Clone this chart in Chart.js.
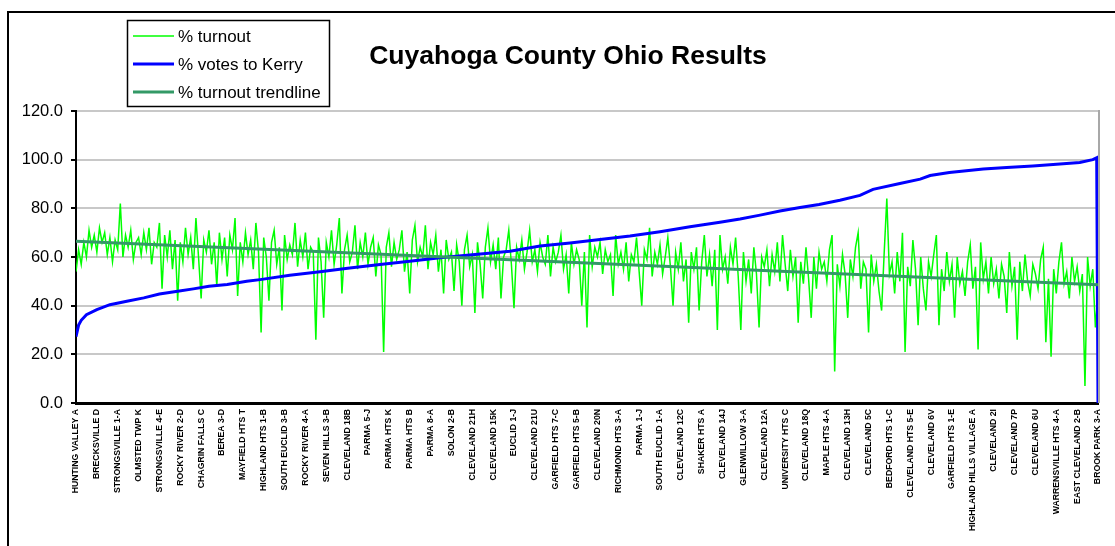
<!DOCTYPE html>
<html>
<head>
<meta charset="utf-8">
<title>Cuyahoga County Ohio Results</title>
<script src="https://cdn.jsdelivr.net/npm/chart.js@4.4.1/dist/chart.umd.min.js"></script>
<style>
  html, body { margin: 0; padding: 0; background: #fff; overflow: hidden; }
  #frame { position: absolute; left: 7px; top: 11px; width: 1200px; height: 600px; border: 2px solid #000; box-sizing: border-box; }
  #wrap { position: absolute; left: 0; top: 0; width: 1115px; height: 546px; }
</style>
</head>
<body>
<div id="frame"></div>
<div id="wrap"><canvas id="resultsChart"></canvas></div>
<script>
const TITLE = 'Cuyahoga County Ohio Results';

// one labelled precinct every LABEL_EVERY positions on the x axis
const LABEL_EVERY = 8;
const precinctLabels = [
  'HUNTING VALLEY A', 'BRECKSVILLE D', 'STRONGSVILLE 1-A', 'OLMSTED TWP K', 'STRONGSVILLE 4-E',
  'ROCKY RIVER 2-D', 'CHAGRIN FALLS C', 'BEREA 3-D', 'MAYFIELD HTS T', 'HIGHLAND HTS 1-B',
  'SOUTH EUCLID 3-B', 'ROCKY RIVER 4-A', 'SEVEN HILLS 3-B', 'CLEVELAND 18B', 'PARMA 5-J',
  'PARMA HTS K', 'PARMA HTS B', 'PARMA 8-A', 'SOLON 2-B', 'CLEVELAND 21H',
  'CLEVELAND 15K', 'EUCLID 1-J', 'CLEVELAND 21U', 'GARFIELD HTS 7-C', 'GARFIELD HTS 5-B',
  'CLEVELAND 20N', 'RICHMOND HTS 3-A', 'PARMA 1-J', 'SOUTH EUCLID 1-A', 'CLEVELAND 12C',
  'SHAKER HTS A', 'CLEVELAND 14J', 'GLENWILLOW 3-A', 'CLEVELAND 12A', 'UNIVERSITY HTS C',
  'CLEVELAND 18Q', 'MAPLE HTS 4-A', 'CLEVELAND 13H', 'CLEVELAND 5C', 'BEDFORD HTS 1-C',
  'CLEVELAND HTS 5-E', 'CLEVELAND 6V', 'GARFIELD HTS 1-E', 'HIGHLAND HILLS VILLAGE A', 'CLEVELAND 2I',
  'CLEVELAND 7P', 'CLEVELAND 6U', 'WARRENSVILLE HTS 4-A', 'EAST CLEVELAND 2-B', 'BROOK PARK 3-A'
];

// % turnout, one value per position (8 per labelled interval)
const turnout = [
  54, 63, 57, 66, 60, 71, 64, 69,
  62, 72, 66, 70, 61, 68, 58, 67,
  63, 82, 60, 69, 64, 71, 59, 66,
  68, 61, 70, 63, 72, 57, 66, 64,
  74, 47, 69, 60, 71, 55, 67, 42,
  66, 58, 72, 61, 68, 55, 76, 60,
  43, 67, 62, 71, 57, 66, 48, 70,
  59, 68, 52, 69, 63, 76, 44, 66,
  58, 70, 61, 67, 55, 74, 62, 29,
  68, 60, 42, 66, 71, 57, 64, 38,
  69, 59, 65, 61, 74, 56, 67, 60,
  70, 55, 64, 62, 26, 68, 58, 35,
  66, 60, 71, 57, 65, 76, 45, 63,
  69, 58, 62, 73, 55, 66, 60, 70,
  57, 64, 68, 52, 65, 61, 21, 64,
  70, 56, 66, 59, 63, 71, 54, 62,
  45, 67, 73, 58, 64, 60, 73, 55,
  66, 61, 69, 54, 63, 45, 67, 59,
  62, 46, 65, 58, 40, 63, 69, 56,
  61, 37, 66, 57, 43, 64, 72, 58,
  65, 55, 68, 43, 60, 63, 71, 57,
  39, 64, 59, 67, 55, 62, 71, 58,
  63, 54, 66, 60, 57, 69, 52, 64,
  58, 62, 69, 55, 61, 45, 66, 57,
  63, 59, 40, 62, 31, 69, 56, 64,
  60, 66, 53, 63, 58, 61, 44, 69,
  57, 62, 55, 66, 50, 61, 58, 68,
  54, 40, 63, 59, 72, 52, 62, 57,
  65, 53, 60, 68, 56, 40, 62, 55,
  66, 50, 59, 33, 62, 55, 64, 38,
  58, 69, 52, 61, 48, 63, 30, 69,
  55, 60, 49, 64, 57, 68, 52, 30,
  62, 50, 59, 45, 64, 53, 31, 60,
  56, 63, 48, 61, 54, 66, 50, 69,
  57, 46, 63, 52, 60, 33, 58, 49,
  64, 51, 35, 60, 47, 62, 55, 58,
  50, 63, 69, 13, 57, 48, 61, 53,
  35, 59, 52, 64, 70, 47, 58, 55,
  29, 61, 50, 57, 46, 38, 62, 84,
  53, 58, 45, 62, 50, 70, 21, 56,
  48, 67, 55, 32, 60, 47, 38, 58,
  52, 61, 69, 32, 55, 46, 62, 50,
  57, 35, 60, 49, 54, 44, 58, 65,
  47, 56, 22, 66, 51, 58, 45, 60,
  49, 55, 43, 57, 52, 37, 62, 48,
  56, 26, 58, 46, 61, 50, 44, 57,
  53, 47, 59, 64, 25, 51, 19, 55,
  45, 58, 66, 49, 54, 43, 60, 50,
  56, 46, 53, 7, 60, 48, 55, 31,
  45
];

// % votes to Kerry, read at these positions
const kerryPos = [0, 1, 2, 4, 8, 13, 19.5, 26, 32, 39, 45, 51, 58, 65.5, 70.6, 82, 93.6, 105, 116.6, 128,
  139.6, 151, 166.5, 178, 189.5, 201, 212.5, 224, 235.5, 247, 254.7, 262.4, 270, 277.7, 285,
  293, 300.7, 305.7, 316, 323.8, 327.6, 335, 348, 357, 367, 377.4, 385, 390, 391.5, 392];
const kerryPct = [27.3, 32, 34, 36.3, 38.4, 40.4, 41.8, 43.2, 44.8, 45.9, 46.9, 48, 48.7, 50, 50.7,
  52.5, 53.9, 55.5, 56.9, 58.3, 59.7, 60.8, 62.4, 64.5, 65.8, 67.2, 68.6, 70.4, 72.4, 74.3,
  75.6, 77.2, 78.9, 80.3, 81.6, 83.3, 85.3, 87.8, 90.2, 92, 93.5, 94.7, 96.2, 96.8, 97.4,
  98.2, 98.8, 100, 100.8, 0];

// turnout trendline end points
const trendPos = [0, 392];
const trendPct = [66.5, 48.6];

const yTicks = [0, 20, 40, 60, 80, 100, 120];

const lastPos = (precinctLabels.length - 1) * LABEL_EVERY;

const decor = {
  id: 'decor',
  beforeDatasetsDraw(chart) {
    const { ctx, chartArea: a } = chart;
    ctx.save();
    ctx.strokeStyle = '#a8a8a8';
    ctx.lineWidth = 2;
    ctx.beginPath();
    ctx.moveTo(a.right + 1, a.top - 1);
    ctx.lineTo(a.right + 1, a.bottom);
    ctx.stroke();
    ctx.restore();
  },
  afterDraw(chart) {
    const { ctx } = chart;
    ctx.save();
    // title
    ctx.fillStyle = '#000';
    ctx.font = 'bold 26.5px Arial, "Liberation Sans"';
    ctx.textAlign = 'center';
    ctx.textBaseline = 'alphabetic';
    ctx.fillText(TITLE, 568, 64);

    // legend box
    ctx.fillStyle = '#fff';
    ctx.fillRect(127, 20, 202, 86);
    ctx.strokeStyle = '#000';
    ctx.lineWidth = 1.5;
    ctx.strokeRect(127.5, 20.5, 202, 86);
    const rows = [36, 64, 92];
    chart.data.datasets.forEach((ds, i) => {
      const y = rows[i];
      ctx.strokeStyle = ds.borderColor;
      ctx.lineWidth = Math.max(1, ds.borderWidth);
      ctx.beginPath();
      ctx.moveTo(133, y);
      ctx.lineTo(174, y);
      ctx.stroke();
      ctx.fillStyle = '#000';
      ctx.font = '17px Arial, "Liberation Sans"';
      ctx.textAlign = 'left';
      ctx.textBaseline = 'middle';
      ctx.fillText(ds.label, 178, y + 1);
    });
    ctx.restore();
  }
};

new Chart(document.getElementById('resultsChart'), {
  type: 'line',
  data: {
    datasets: [
      {
        label: '% turnout',
        data: turnout.map((v, i) => ({ x: i, y: v })),
        borderColor: '#00ff00',
        borderWidth: 1.5,
        pointRadius: 0,
        order: 3
      },
      {
        label: '% votes to Kerry',
        data: kerryPos.map((p, i) => ({ x: p, y: kerryPct[i] })),
        borderColor: '#0000ff',
        borderWidth: 3,
        pointRadius: 0,
        order: 2
      },
      {
        label: '% turnout trendline',
        data: trendPos.map((p, i) => ({ x: p, y: trendPct[i] })),
        borderColor: '#339966',
        borderWidth: 3,
        pointRadius: 0,
        order: 1
      }
    ]
  },
  options: {
    responsive: true,
    maintainAspectRatio: false,
    animation: false,
    layout: { padding: { top: 111, right: 17, bottom: 0, left: 0 } },
    plugins: {
      legend: { display: false },
      title: { display: false },
      tooltip: { enabled: false }
    },
    scales: {
      x: {
        type: 'linear',
        min: 0,
        max: lastPos,
        afterBuildTicks: s => { s.ticks = precinctLabels.map((_, i) => ({ value: i * LABEL_EVERY })); },
        ticks: {
          autoSkip: false,
          minRotation: 90,
          maxRotation: 90,
          padding: 6,
          color: '#000',
          font: { family: 'Arial, "Liberation Sans"', size: 8.7, weight: 'bold' },
          callback: (v, i) => precinctLabels[i]
        },
        grid: { display: false, drawTicks: false },
        border: { color: '#000', width: 3 },
        afterFit: s => { s.height = 143; s.paddingLeft = 0; s.paddingRight = 0; }
      },
      y: {
        min: 0,
        max: 120,
        afterBuildTicks: s => { s.ticks = yTicks.map(v => ({ value: v })); },
        ticks: {
          color: '#000',
          padding: 8,
          font: { family: 'Arial, "Liberation Sans"', size: 16.5 },
          callback: v => v.toFixed(1)
        },
        grid: { color: '#c8c8c8', lineWidth: 2, tickColor: '#000', tickLength: 5 },
        border: { color: '#000', width: 2 },
        afterFit: s => { s.width = 76; }
      }
    }
  },
  plugins: [decor]
});
</script>
</body>
</html>
